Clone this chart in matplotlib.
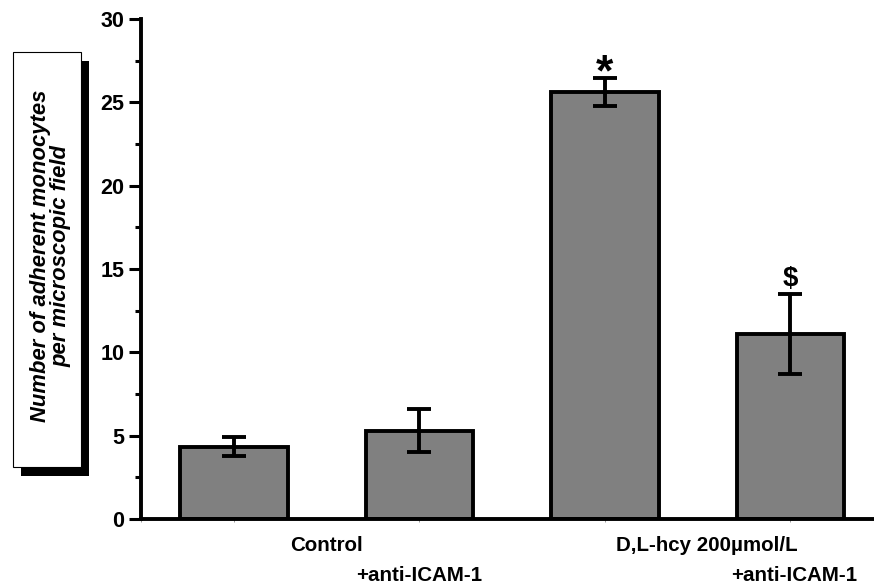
import matplotlib.pyplot as plt
from matplotlib.patches import Rectangle

# adherent monocyte counts per group
positions = [1, 2, 3, 4]
means = [4.35, 5.3, 25.6, 11.1]
sems = [0.55, 1.3, 0.85, 2.4]
marks = ['', '', '*', '$']
group_labels = ['Control', 'D,L-hcy 200\u00b5mol/L']
group_pos = [1.5, 3.55]
sub_labels = ['+anti-ICAM-1', '+anti-ICAM-1']
sub_pos = [2, 4.02]

plt.rcParams['font.family'] = ['Liberation Sans', 'DejaVu Sans']
plt.rcParams['font.weight'] = 'bold'

fig = plt.figure(figsize=(8.74, 5.87), dpi=100)
ax = fig.add_axes([0.1613, 0.1158, 0.8387, 0.852])

ax.bar(positions, means, width=0.58, color='#808080', edgecolor='black',
       linewidth=2.8, zorder=2)
ax.errorbar(positions, means, yerr=sems, fmt='none', ecolor='black',
            elinewidth=2.8, capsize=8.5, capthick=2.8, zorder=3)

# significance marks above the error bars
for x, m, e, s in zip(positions, means, sems, marks):
    if s == '*':
        ax.text(x, m + e - 0.45, s, ha='center', va='baseline', fontsize=32,
                fontweight='bold')
    elif s:
        ax.text(x, m + e + 0.5, s, ha='center', va='baseline', fontsize=20,
                fontweight='bold')

ax.set_xlim(0.5, 4.45)
ax.set_ylim(0, 30)
ax.set_yticks([0, 5, 10, 15, 20, 25, 30])
ax.set_yticks([2.5, 7.5, 12.5, 17.5, 22.5, 27.5], minor=True)
ax.tick_params(axis='y', which='major', length=9, width=2.2, labelsize=15.5,
               direction='out', pad=3)
ax.tick_params(axis='y', which='minor', length=4.5, width=2.2, direction='out')
ax.set_xticks([0.5] + positions)
ax.set_xticklabels([])
ax.tick_params(axis='x', which='major', length=2, width=0.6, color='#888888')

for side in ['top', 'right']:
    ax.spines[side].set_visible(False)
for side in ['left', 'bottom']:
    ax.spines[side].set_linewidth(2.8)

for lab, p in zip(group_labels, group_pos):
    ax.text(p, -1.6, lab, ha='center', va='center', fontsize=14.8,
            fontweight='bold')
for lab, p in zip(sub_labels, sub_pos):
    ax.text(p, -3.4, lab, ha='center', va='center', fontsize=14.8,
            fontweight='bold')

for t in ax.get_yticklabels():
    t.set_fontweight('bold')

# y-axis title in a framed box with a drop shadow (pixel units)
W, H = 874.0, 587.0
bx0, bx1, by0, by1 = 13, 81, 52, 467
shadow = Rectangle(((bx0 + 8) / 100, (H - by1 - 9) / 100),
                   (bx1 - bx0) / 100, (by1 - by0) / 100,
                   transform=fig.dpi_scale_trans, facecolor='black',
                   edgecolor='black', linewidth=0)
box = Rectangle((bx0 / 100, (H - by1) / 100), (bx1 - bx0) / 100, (by1 - by0) / 100,
                transform=fig.dpi_scale_trans, facecolor='white',
                edgecolor='black', linewidth=0.8)
fig.add_artist(shadow)
fig.add_artist(box)
fig.text(51 / W, 1 - 256 / H,
         'Number of adherent monocytes\nper microscopic field',
         rotation=90, ha='center', va='center', fontsize=15.8,
         fontweight='bold', fontstyle='italic', linespacing=0.95)

fig.savefig('out.png', dpi=100)
